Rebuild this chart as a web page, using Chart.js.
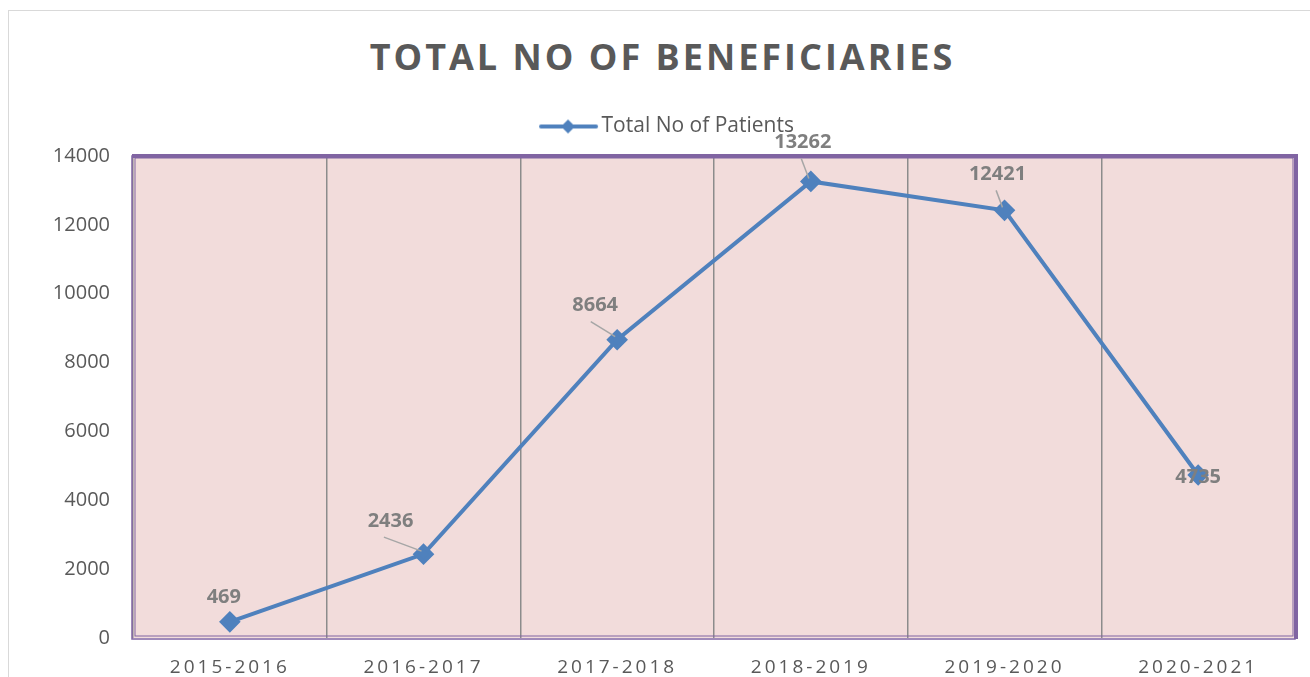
<!DOCTYPE html>
<html>
<head>
<meta charset="utf-8">
<script src="https://cdn.jsdelivr.net/npm/chart.js@4/dist/chart.umd.min.js"></script>
<style>
  html, body { margin: 0; padding: 0; background: #fff; }
  #wrap { position: relative; width: 1310px; height: 677px; overflow: hidden; }
  #frame { position: absolute; left: 8px; top: 10px; right: -5px; bottom: -5px;
           border-left: 1px solid #d9d9d9; border-top: 1px solid #d9d9d9; }
  #title { position: absolute; left: 0; width: 1325px; top: 32px; text-align: center;
           font-family: "Open Sans", sans-serif; font-weight: bold; font-size: 36px;
           letter-spacing: 3px; color: #595959; margin: 0; line-height: 50px; }
  canvas { position: absolute; left: 0; top: 0; }
</style>
</head>
<body>
<div id="wrap">
  <div id="frame"></div>
  <h1 id="title">TOTAL NO OF BENEFICIARIES</h1>
  <canvas id="lineChart" width="1310" height="677"></canvas>
</div>
<script>
const years = ['2015-2016', '2016-2017', '2017-2018', '2018-2019', '2019-2020', '2020-2021'];
const patients = [469, 2436, 8664, 13262, 12421, 4735];
const seriesName = 'Total No of Patients';

const lineColor = '#4F81BD';
const labelGray = '#7F7F7F';
const textGray = '#595959';

// label offsets from the point (dx, dy) and whether a leader line is drawn
const labelPlace = [
    { dx: -6, dy: -25, leader: false },
    { dx: -33, dy: -33, leader: true },
    { dx: -22, dy: -34, leader: true },
    { dx: -8, dy: -39, leader: true },
    { dx: -7, dy: -36, leader: true },
    { dx: 0, dy: 2, leader: false }
];

// legend marker: short line with a diamond (left part left blank on purpose)
function legendIcon() {
    const c = document.createElement('canvas');
    c.width = 106; c.height = 18;
    const g = c.getContext('2d');
    g.strokeStyle = lineColor;
    g.lineWidth = 4;
    g.lineCap = 'round';
    g.beginPath(); g.moveTo(48, 9); g.lineTo(103, 9); g.stroke();
    g.fillStyle = lineColor;
    g.beginPath(); g.moveTo(75, 2); g.lineTo(82, 9); g.lineTo(75, 16); g.lineTo(68, 9); g.closePath(); g.fill();
    return c;
}

const plotFrame = {
    id: 'plotFrame',
    beforeLayout(chart) {
        const lg = chart.legend;
        if (lg && !lg._taller) {
            const fit = lg.fit.bind(lg);
            lg.fit = function () { fit(); this.height += 9; };
            lg._taller = true;
        }
    },
    beforeDraw(chart) {
        const { ctx, chartArea: a } = chart;
        ctx.save();
        ctx.fillStyle = '#F2DCDB';
        ctx.fillRect(a.left, a.top, a.right - a.left, a.bottom - a.top);
        ctx.restore();
        const x = chart.scales.x;
        if (x && !x._spaced) {
            const orig = x.drawLabels.bind(x);
            x.drawLabels = function (area) {
                chart.ctx.save();
                chart.ctx.letterSpacing = '3px';
                orig(area);
                chart.ctx.restore();
            };
            x._spaced = true;
        }
    },
    beforeDatasetsDraw(chart) {
        const { ctx, chartArea: a } = chart;
        ctx.save();
        ctx.strokeStyle = '#8064A2';
        ctx.lineWidth = 1.5;
        ctx.strokeRect(a.left - 1, a.top, a.right - a.left + 1, a.bottom - a.top + 1);
        ctx.lineWidth = 1;
        ctx.strokeRect(a.left + 2, a.top + 2, a.right - a.left - 4, a.bottom - a.top - 4);
        ctx.lineWidth = 4;
        ctx.beginPath();
        ctx.moveTo(a.left - 1, a.top);
        ctx.lineTo(a.right + 1, a.top);
        ctx.lineTo(a.right + 1, a.bottom + 1);
        ctx.stroke();
        ctx.restore();
    },
    afterDatasetsDraw(chart) {
        const { ctx } = chart;
        const pts = chart.getDatasetMeta(0).data;
        ctx.save();
        ctx.font = 'bold 20px "Open Sans"';
        ctx.textAlign = 'center';
        ctx.textBaseline = 'middle';
        pts.forEach((p, i) => {
            const pl = labelPlace[i];
            const lx = p.x + pl.dx, ly = p.y + pl.dy;
            if (pl.leader) {
                ctx.strokeStyle = '#A6A6A6';
                ctx.lineWidth = 1.5;
                ctx.beginPath();
                ctx.moveTo(lx + pl.dx * 0.2, ly + 16);
                ctx.lineTo(p.x - 2, p.y - 3);
                ctx.stroke();
            }
            ctx.fillStyle = labelGray;
            ctx.fillText(String(patients[i]), lx, ly);
        });
        ctx.restore();
    }
};

const ctx = document.getElementById('lineChart').getContext('2d');
new Chart(ctx, {
    type: 'line',
    data: {
        labels: years,
        datasets: [{
            label: seriesName,
            data: patients,
            borderColor: lineColor,
            backgroundColor: lineColor,
            borderWidth: 4,
            pointStyle: 'rectRot',
            pointRadius: 8,
            pointHoverRadius: 8,
            tension: 0
        }]
    },
    options: {
        responsive: false,
        animation: false,
        layout: { padding: { top: 85, right: 15, left: 0, bottom: 0 } },
        plugins: {
            title: { display: false },
            tooltip: { enabled: false },
            legend: {
                position: 'top',
                labels: {
                    padding: 31,
                    usePointStyle: true,
                    pointStyleWidth: 90,
                    color: textGray,
                    font: { family: 'Open Sans', size: 21 },
                    generateLabels: (chart) => [{
                        text: seriesName,
                        pointStyle: legendIcon(),
                        fontColor: textGray,
                        hidden: false,
                        datasetIndex: 0
                    }]
                }
            }
        },
        scales: {
            x: {
                offset: true,
                grid: { offset: true, color: '#8C8C8C', lineWidth: 1.5, drawTicks: false },
                border: { display: false },
                ticks: { color: textGray, font: { family: 'Open Sans', size: 19 }, padding: 18 },
                afterFit: (s) => { s.height = 39; }
            },
            y: {
                min: 0,
                max: 14000,
                grid: { display: false, drawTicks: false },
                border: { display: false },
                ticks: {
                    stepSize: 2000,
                    color: textGray,
                    font: { family: 'Open Sans', size: 20 },
                    padding: 23,
                    callback: (v) => String(v)
                },
                afterFit: (s) => { s.width = 133; }
            }
        }
    },
    plugins: [plotFrame]
});
</script>
</body>
</html>
